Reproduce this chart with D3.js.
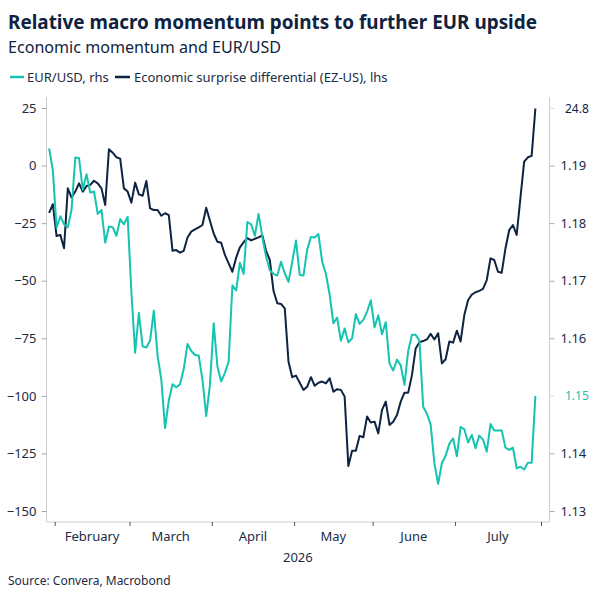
<!DOCTYPE html>
<html>
<head>
<meta charset="utf-8">
<script src="https://cdn.jsdelivr.net/npm/d3@7"></script>
<style>
  html, body { margin: 0; padding: 0; background: #fff; }
  svg { display: block; font-family: "Noto Sans", "Open Sans", sans-serif; }
</style>
</head>
<body>
<svg id="chart" width="600" height="600"></svg>
<script>
// ---------- DATA ----------
const startDate = "2026-01-29";
const endDate = "2026-07-30";

const eurusd = [
  1.1930, 1.1892, 1.1792, 1.1812, 1.1798, 1.1793, 1.1823, 1.1914, 1.1913, 1.1858,
  1.1885, 1.1853, 1.1855, 1.1816, 1.1823, 1.1766, 1.1794, 1.1793, 1.1778, 1.1807,
  1.1798, 1.1811, 1.1680, 1.1575, 1.1644, 1.1586, 1.1584, 1.1596, 1.1648, 1.1570,
  1.1528, 1.1444, 1.1492, 1.1520, 1.1515, 1.1520, 1.1547, 1.1590, 1.1578, 1.1571,
  1.1570, 1.1528, 1.1465, 1.1519, 1.1626, 1.1551, 1.1525, 1.1540, 1.1560, 1.1692,
  1.1683, 1.1731, 1.1712, 1.1802, 1.1798, 1.1778, 1.1816, 1.1776, 1.1742, 1.1718,
  1.1712, 1.1709, 1.1733, 1.1713, 1.1698, 1.1733, 1.1770, 1.1710, 1.1709, 1.1754,
  1.1776, 1.1775, 1.1781, 1.1733, 1.1712, 1.1676, 1.1626, 1.1636, 1.1596, 1.1617,
  1.1593, 1.1600, 1.1642, 1.1625, 1.1632, 1.1646, 1.1666, 1.1619, 1.1640, 1.1607,
  1.1628, 1.1556, 1.1544, 1.1563, 1.1553, 1.1519, 1.1578, 1.1606, 1.1606, 1.1596,
  1.1481, 1.1469, 1.1450, 1.1383, 1.1347, 1.1383, 1.1396, 1.1417, 1.1426, 1.1395,
  1.1446, 1.1442, 1.1419, 1.1432, 1.1409, 1.1431, 1.1424, 1.1403, 1.1451, 1.1440,
  1.1440, 1.1440, 1.1410, 1.1406, 1.1410, 1.1374, 1.1377, 1.1372, 1.1384, 1.1384,
  1.1500
];

const surprise = [
  -20.5, -16.8, -30.6, -30.1, -35.9, -9.9, -13.9, -11.3, -7.7, -11.3,
  -8.9, -8.4, -6.6, -7.7, -9.9, -17.1, 7.1, 5.6, 3.6, 3.0,
  -9.9, -11.3, -16.1, -7.4, -12.5, -13.1, -6.7, -18.6, -19.3, -19.3,
  -21.8, -20.7, -21.5, -37.0, -36.7, -37.8, -37.0, -31.2, -28.7, -27.7,
  -26.8, -25.8, -18.3, -24.0, -29.5, -33.1, -33.5, -38.8, -42.5, -46.1,
  -40.0, -35.5, -33.3, -31.5, -32.5, -31.8, -31.2, -30.3, -37.0, -41.0,
  -54.5, -59.8, -60.1, -62.0, -85.2, -91.9, -91.2, -94.3, -97.4, -96.0,
  -91.9, -95.6, -94.3, -93.8, -94.6, -92.4, -98.2, -97.1, -97.4, -100.3,
  -130.5, -123.8, -123.8, -117.4, -118.0, -109.0, -111.6, -111.2, -116.3, -106.1,
  -102.5, -112.6, -111.2, -108.3, -102.5, -98.6, -98.6, -91.0, -79.4, -76.7,
  -76.2, -75.5, -73.1, -75.5, -72.8, -85.9, -84.1, -76.4, -76.9, -71.7,
  -76.4, -64.9, -58.5, -56.0, -55.0, -54.4, -53.5, -49.7, -40.3, -41.0,
  -46.1, -46.5, -36.0, -28.0, -25.8, -30.1, -14.0, 1.7, 3.6, 4.2,
  24.8
];

const leftTicks = [25, 0, -25, -50, -75, -100, -125, -150];
const rightTicks = [1.13, 1.14, 1.16, 1.17, 1.18, 1.19];
const monthNames = ["February", "March", "April", "May", "June", "July"];
const yearLabel = "2026";

const titleText = "Relative macro momentum points to further EUR upside";
const subtitleText = "Economic momentum and EUR/USD";
const legendItems = ["EUR/USD, rhs", "Economic surprise differential (EZ-US), lhs"];
const sourceText = "Source: Convera, Macrobond";

// ---------- BUSINESS-DAY CALENDAR ----------
function businessDays(a, b) {
  const out = [];
  const d = new Date(a + "T00:00:00Z");
  const end = new Date(b + "T00:00:00Z");
  while (d <= end) {
    const wd = d.getUTCDay();
    if (wd !== 0 && wd !== 6) out.push(new Date(d));
    d.setUTCDate(d.getUTCDate() + 1);
  }
  return out;
}
const dates = businessDays(startDate, endDate);
// month boundaries (index of first business day - 0.5)
const boundaries = [];
for (let i = 1; i < dates.length; i++) {
  if (dates[i].getUTCMonth() !== dates[i - 1].getUTCMonth()) boundaries.push(i - 0.5);
}
// boundary after July (23 business days in July 2026)
const lastMonthStart = boundaries[boundaries.length - 1];
boundaries.push(lastMonthStart + 23);

// ---------- COLORS ----------
const teal = "#14c4b0";
const navy = "#0d2341";
const textColor = "#1c2b45";
const axisGrey = "#cccccc";

// ---------- SCALES ----------
const svg = d3.select("#chart");
const plotLeft = 46.5, plotRight = 549.5, plotTop = 97, plotBottom = 522;

const x = d3.scaleLinear().domain([0, boundaries[boundaries.length - 1]]).range([49.1, 541]);
const yL = d3.scaleLinear().domain([-150, 25]).range([511, 108]);
const yR = d3.scaleLinear().domain([1.13, 1.20]).range([511, 108]);

// ---------- TITLES ----------
svg.append("text").attr("x", 8).attr("y", 29)
  .attr("font-size", 19.5).attr("font-weight", "bold").attr("fill", "#0f2340")
  .attr("textLength", 529).attr("lengthAdjust", "spacingAndGlyphs")
  .text(titleText);
svg.append("text").attr("x", 8).attr("y", 53)
  .attr("font-size", 16.5).attr("fill", "#0f2340")
  .attr("textLength", 273).attr("lengthAdjust", "spacingAndGlyphs")
  .text(subtitleText);

// legend
const lg = svg.append("g").attr("font-size", 13).attr("fill", textColor);
lg.append("line").attr("x1", 10).attr("x2", 24).attr("y1", 77).attr("y2", 77)
  .attr("stroke", teal).attr("stroke-width", 2.5);
lg.append("text").attr("x", 27).attr("y", 81.5).text(legendItems[0]);
lg.append("line").attr("x1", 115).attr("x2", 130).attr("y1", 77).attr("y2", 77)
  .attr("stroke", navy).attr("stroke-width", 2.5);
lg.append("text").attr("x", 134).attr("y", 81.5).text(legendItems[1]);

// ---------- AXES ----------
const axG = svg.append("g");
axG.append("line").attr("x1", plotLeft).attr("x2", plotLeft).attr("y1", plotTop).attr("y2", plotBottom)
  .attr("stroke", axisGrey);
axG.append("line").attr("x1", plotRight).attr("x2", plotRight).attr("y1", plotTop).attr("y2", plotBottom)
  .attr("stroke", axisGrey);
axG.append("line").attr("x1", plotLeft).attr("x2", plotRight).attr("y1", plotBottom).attr("y2", plotBottom)
  .attr("stroke", axisGrey);

// left axis
const leftAxis = d3.axisLeft(yL).tickValues(leftTicks).tickSize(5).tickPadding(5)
  .tickFormat(d => d3.format("d")(d));
const gl = svg.append("g").attr("transform", `translate(${plotLeft},0)`).call(leftAxis);
gl.select(".domain").remove();
gl.selectAll(".tick line").attr("stroke", "#aaaaaa");
gl.selectAll(".tick text").attr("fill", textColor).attr("font-size", 13)
  .attr("font-family", "Noto Sans, sans-serif");

// right axis
const rightAxis = d3.axisRight(yR).tickValues(rightTicks).tickSize(5).tickPadding(6)
  .tickFormat(d3.format(".2f"));
const gr = svg.append("g").attr("transform", `translate(${plotRight},0)`).call(rightAxis);
gr.select(".domain").remove();
gr.selectAll(".tick line").attr("stroke", "#aaaaaa");
gr.selectAll(".tick text").attr("fill", textColor).attr("font-size", 13)
  .attr("font-family", "Noto Sans, sans-serif");

// last value labels on the right
const lastSurprise = surprise[surprise.length - 1];
const lastEur = eurusd[eurusd.length - 1];
svg.append("line").attr("x1", plotRight).attr("x2", plotRight + 5)
  .attr("y1", yL(lastSurprise)).attr("y2", yL(lastSurprise)).attr("stroke", "#dddddd");
svg.append("text").attr("x", 565).attr("y", yL(lastSurprise)).attr("dy", "0.35em")
  .attr("font-size", 12).attr("fill", navy).text(d3.format(".1f")(lastSurprise));
svg.append("line").attr("x1", plotRight).attr("x2", plotRight + 5)
  .attr("y1", yR(lastEur)).attr("y2", yR(lastEur)).attr("stroke", "#dddddd");
svg.append("text").attr("x", 565).attr("y", yR(lastEur)).attr("dy", "0.35em")
  .attr("font-size", 12).attr("fill", teal).text(d3.format(".2f")(lastEur));

// bottom axis: month boundaries as ticks
const xAxis = d3.axisBottom(x).tickValues(boundaries).tickSize(4).tickFormat("");
const gx = svg.append("g").attr("transform", `translate(0,${plotBottom})`).call(xAxis);
gx.select(".domain").remove();
gx.selectAll(".tick line").attr("stroke", "#555555");

// month labels centred between boundaries
svg.append("g").selectAll("text").data(monthNames).join("text")
  .attr("x", (d, i) => x((boundaries[i] + boundaries[i + 1]) / 2))
  .attr("y", 541).attr("text-anchor", "middle")
  .attr("font-size", 13).attr("fill", textColor).text(d => d);
svg.append("text").attr("x", x((boundaries[0] + boundaries[boundaries.length - 1]) / 2))
  .attr("y", 562).attr("text-anchor", "middle")
  .attr("font-size", 13).attr("fill", textColor).text(yearLabel);

// source
svg.append("text").attr("x", 8).attr("y", 585).attr("font-size", 12)
  .attr("fill", textColor).text(sourceText);

// ---------- LINES ----------
const lineL = d3.line().x((d, i) => x(i)).y(d => yL(d));
const lineR = d3.line().x((d, i) => x(i)).y(d => yR(d));

svg.append("path").datum(surprise).attr("d", lineL)
  .attr("fill", "none").attr("stroke", navy).attr("stroke-width", 2)
  .attr("stroke-linejoin", "round");
svg.append("path").datum(eurusd).attr("d", lineR)
  .attr("fill", "none").attr("stroke", teal).attr("stroke-width", 2)
  .attr("stroke-linejoin", "round");
</script>
</body>
</html>
